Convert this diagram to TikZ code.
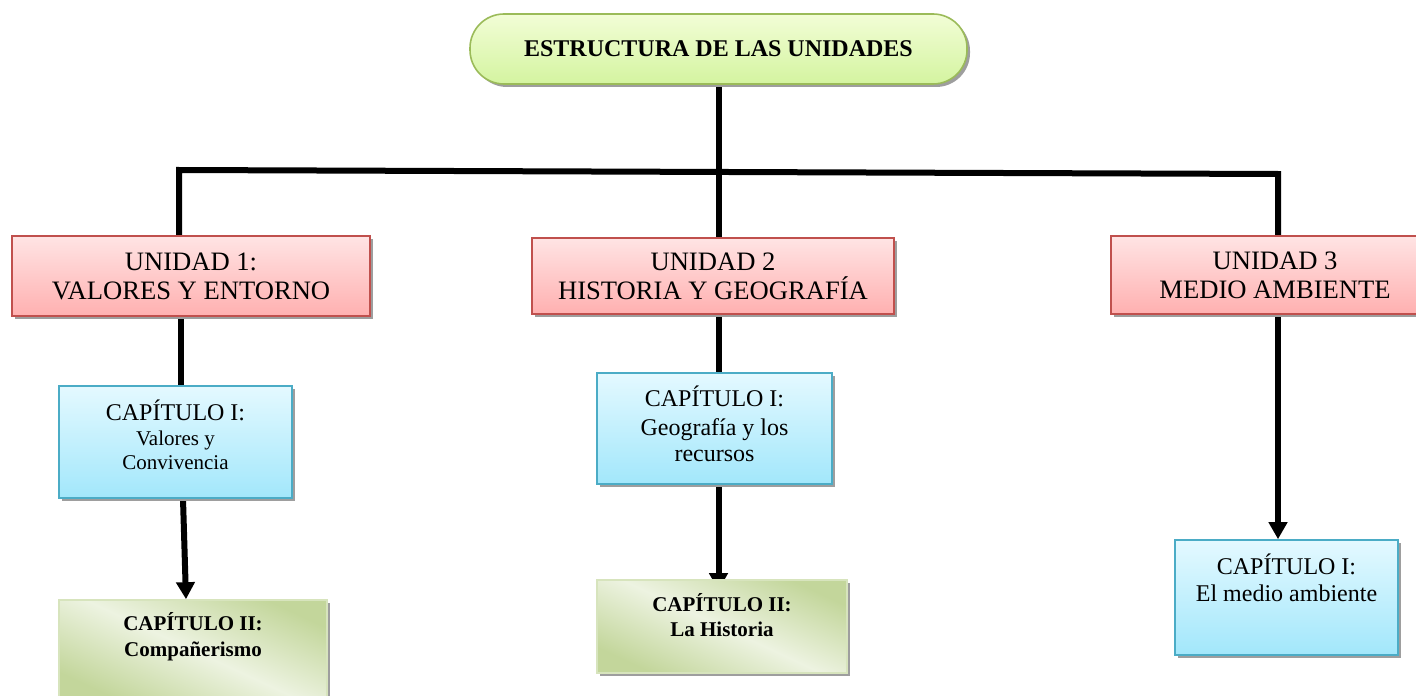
\documentclass[tikz,border=0pt]{standalone}
\usepackage{fontspec}
\setmainfont{Liberation Serif}
\usetikzlibrary{arrows.meta,shadows,backgrounds,calc}

\definecolor{titleTop}{HTML}{F2FDD6}
\definecolor{titleBot}{HTML}{D4F4A0}
\definecolor{titleLine}{HTML}{9BBB59}
\definecolor{unitTop}{HTML}{FFE4E4}
\definecolor{unitBot}{HTML}{FFB0B0}
\definecolor{unitLine}{HTML}{C0504D}
\definecolor{chapTop}{HTML}{E4F9FF}
\definecolor{chapBot}{HTML}{A2E7FB}
\definecolor{chapLine}{HTML}{4BACC6}
\definecolor{subDark}{HTML}{C3D69B}
\definecolor{subLight}{HTML}{EDF3E1}
\definecolor{subLine}{HTML}{D7E4BD}

\newcommand{\boxtext}[4]{\parbox[c][#1][t]{#2}{\centering\rule{0pt}{#3}#4}}

\begin{document}
\begin{tikzpicture}[x=0.5pt,y=-0.5pt,
  conn/.style={line width=3pt},
  arr/.style={conn,-{Triangle[width=9pt,length=8.5pt]}},
  shadowed/.style={drop shadow={shadow xshift=1.5pt,shadow yshift=-1.5pt,fill=black!38,opacity=1}},
  titlebox/.style={shadowed,draw=titleLine,line width=0.8pt,top color=titleTop,bottom color=titleBot,
    rounded corners=17pt,minimum width=248.5pt,minimum height=35pt,font=\bfseries\fontsize{12}{14}\selectfont},
  unitbox/.style={shadowed,draw=unitLine,line width=0.8pt,top color=unitTop,bottom color=unitBot,
    align=center,font=\fontsize{13.3}{14.5}\selectfont},
  chapbox/.style={shadowed,draw=chapLine,line width=0.8pt,top color=chapTop,bottom color=chapBot,
    inner sep=0pt,font=\fontsize{12}{13}\selectfont},
  subbox/.style={shadowed,draw=subLine,line width=0.8pt,top color=subDark,bottom color=subDark,
    middle color=subLight,shading angle=-25,inner sep=0pt,font=\bfseries\fontsize{10.5}{13}\selectfont}]
\useasboundingbox (0,0) rectangle (1416,695);

\node[titlebox] (title) at (718.5,49) {ESTRUCTURA DE LAS UNIDADES};

\node[unitbox,minimum width=179pt,minimum height=40pt] (u1) at (191,276) {UNIDAD 1:\\VALORES Y ENTORNO};
\node[unitbox,minimum width=181pt,minimum height=38pt] (u2) at (713,276) {UNIDAD 2\\HISTORIA Y GEOGRAFÍA};
\node[unitbox,minimum width=164pt,minimum height=39pt] (u3) at (1275,275) {UNIDAD 3\\MEDIO AMBIENTE};

\node[chapbox] (c1a) at (175.5,442) {\boxtext{56pt}{116.5pt}{17pt}{CAPÍTULO I:\\[0.5pt]\fontsize{10.5}{12}\selectfont Valores y\\Convivencia}};
\node[chapbox] (c1b) at (714.5,428.5) {\boxtext{55.5pt}{117.5pt}{16.5pt}{CAPÍTULO I:\\[1.5pt]Geografía y los\\recursos}};
\node[chapbox,font=\fontsize{12}{13.5}\selectfont] (c1c) at (1286.5,597.5) {\boxtext{57.5pt}{111.5pt}{17pt}{CAPÍTULO I:\\El medio ambiente}};

\node[subbox] (c2a) at (193,650) {\boxtext{50pt}{134pt}{15pt}{CAPÍTULO II:\\Compañerismo}};
\node[subbox,font=\bfseries\fontsize{10.5}{12.5}\selectfont] (c2b) at (722,626.5) {\boxtext{46.5pt}{125pt}{15.5pt}{CAPÍTULO II:\\La Historia}};

\begin{scope}[on background layer]
\coordinate (hl) at (179,170);
\coordinate (hr) at (1278,174);
\draw[conn] (u1.north -| hl) -- (hl) -- (hr) -- (u3.north -| hr);
\draw[conn] (title.south) -- (title.south |- u2.north);
\draw[conn] ([xshift=-5pt]u1.south) -- ([xshift=2.75pt]c1a.north);
\draw[arr] ([xshift=3.75pt]c1a.south) -- ([xshift=-3.5pt]c2a.north);
\draw[conn] (title.south |- u2.south) -- (title.south |- c1b.north);
\draw[arr] (title.south |- c1b.south) -- ($(title.south |- c2b.north)+(0,11)$);
\draw[arr] (hr |- u3.south) -- (hr |- c1c.north);
\end{scope}
\end{tikzpicture}
\end{document}
